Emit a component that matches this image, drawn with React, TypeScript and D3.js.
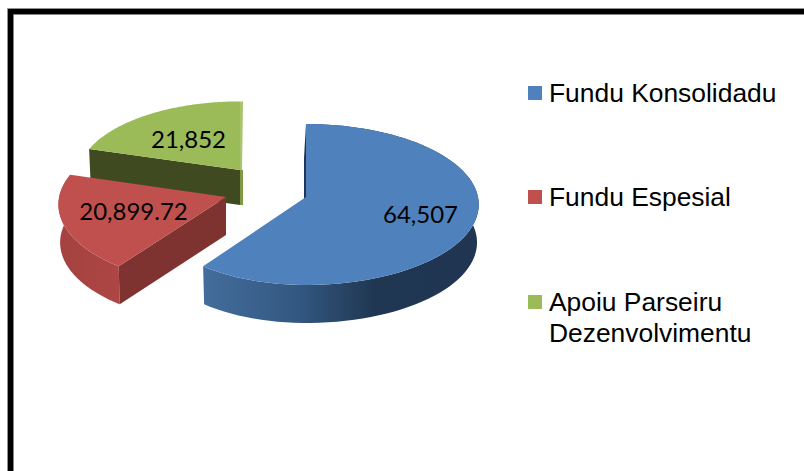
import React from "react";
import * as d3 from "d3";

const categories = ["Fundu Konsolidadu", "Fundu Espesial", "Apoiu Parseiru Dezenvolvimentu"];
const values = [64507, 20899.72, 21852];
const valueLabels = ["64,507", "20,899.72", "21,852"];
const legendLines = [["Fundu Konsolidadu"], ["Fundu Espesial"], ["Apoiu Parseiru", "Dezenvolvimentu"]];
const topColors = ["#4f81bd", "#c0504d", "#9bbb59"];
const endWallColors = ["#1f3552", "#7f3331", "#3f4a20"];

const apexes = [[306, 197], [226, 197], [240, 170]];
const scales = [1, 1, 0.94];
const leftScales = [0.93, 0.97, 1];
const depths = [38, 38, 35];
const labelPos = [[420.5, 223], [133.5, 220], [188.5, 148]];
const legendY = [86, 190, 295];

const RX = 172, RY = 79.8, K = 0.0934;

function project(angle: number, r: number) {
  const u = Math.sin(angle) * r, v = -Math.cos(angle) * r;
  const w = 1 - K * v;
  return [(RX * u) / w, (RY * v) / w];
}

const line = d3.line();

export default function App() {
  const arcs = d3.pie<number>().sort(null).value((d) => d)(values);

  const slices = arcs.map((a, i) => {
    const [ax, ay] = apexes[i];
    const s = scales[i];
    const d = depths[i];
    const n = 80;
    const angles = d3.range(n + 1).map((k) => a.startAngle + ((a.endAngle - a.startAngle) * k) / n);
    const xs = (x: number) => (x < 0 ? x * leftScales[i] : x);
    const outer = angles.map((t) => {
      const [x, y] = project(t, 1);
      return [ax + xs(x) * s, ay + y * s] as [number, number];
    });
    const outerLow = angles.map((t) => {
      const [x, y] = project(t, 1);
      return [ax + xs(x) * s * 0.99, ay + y * s + d] as [number, number];
    });
    const top = [[ax, ay] as [number, number], ...outer];
    const wall = [...outer, ...outerLow.slice().reverse()];
    const apexLow: [number, number] = [ax, ay + d];
    const first = outer[0], last = outer[n];
    return {
      top: line(top) + "Z",
      wall: line(wall) + "Z",
      startWall: line([[ax, ay], first, outerLow[0], apexLow]) + "Z",
      first, last, ax, ay, d,
    };
  });

  const [blue, red, green] = slices;

  return (
    <svg width={804} height={471} style={{ position: "absolute", left: 0, top: 0, background: "#fff" }}>
      <defs>
        <linearGradient id="blueSide" gradientUnits="userSpaceOnUse" x1={203} x2={479} y1={0} y2={0}>
          <stop offset="0" stopColor="#446d9c" />
          <stop offset="0.35" stopColor="#325780" />
          <stop offset="0.62" stopColor="#203752" />
          <stop offset="1" stopColor="#1f3552" />
        </linearGradient>
        <linearGradient id="redSide" gradientUnits="userSpaceOnUse" x1={58} x2={118} y1={0} y2={0}>
          <stop offset="0" stopColor="#a34240" />
          <stop offset="1" stopColor="#ad4644" />
        </linearGradient>
      </defs>

      <path d="M10.5 471V11.5H804" fill="none" stroke="#000" strokeWidth={6} />
      <path d="M7.5 471V8.5H804" fill="none" stroke="#999" strokeWidth={0.7} />
      <path d="M13.5 471V14.5H804" fill="none" stroke="#888" strokeWidth={0.7} />

      {/* green */}
      <path d={line([[green.ax, green.ay], [green.ax + 3, green.ay], [green.ax + 3, green.ay + green.d], [green.ax, green.ay + green.d]]) + "Z"} fill="#7f9a45" />
      <path d={line([[green.ax, green.ay], green.last, [green.last[0] + 3, green.last[1]], [green.ax + 2, green.ay]]) + "Z"} fill="#a9c46c" />
      <path d={green.startWall} fill={endWallColors[2]} />
      <path d={green.top} fill={topColors[2]} />

      {/* red */}
      <path d={red.wall} fill="url(#redSide)" />
      <path d={red.startWall} fill={endWallColors[1]} />
      <path d={red.top} fill={topColors[1]} />

      {/* blue */}
      <path d={line([blue.first, [blue.first[0] - 2, blue.first[1] + 34], [blue.ax - 2, blue.ay + 4], [blue.ax, blue.ay]]) + "Z"} fill="#1f3552" />
      <path d={blue.wall} fill="url(#blueSide)" />
      <path d={blue.top} fill={topColors[0]} />

      {valueLabels.map((t, i) => (
        <text key={t} x={labelPos[i][0]} y={labelPos[i][1]} textAnchor="middle" fontFamily="Lato, Carlito, sans-serif" fontSize={24} fill="#000">
          {t}
        </text>
      ))}

      {categories.map((c, i) => (
        <g key={c}>
          <rect x={528} y={legendY[i]} width={14} height={14} fill={topColors[i]} />
          {legendLines[i].map((l, j) => (
            <text key={l} x={549} y={legendY[i] + 16 + j * 31} fontFamily="'Liberation Sans', Arial, sans-serif" fontSize={26.4} fill="#000">
              {l}
            </text>
          ))}
        </g>
      ))}
    </svg>
  );
}
